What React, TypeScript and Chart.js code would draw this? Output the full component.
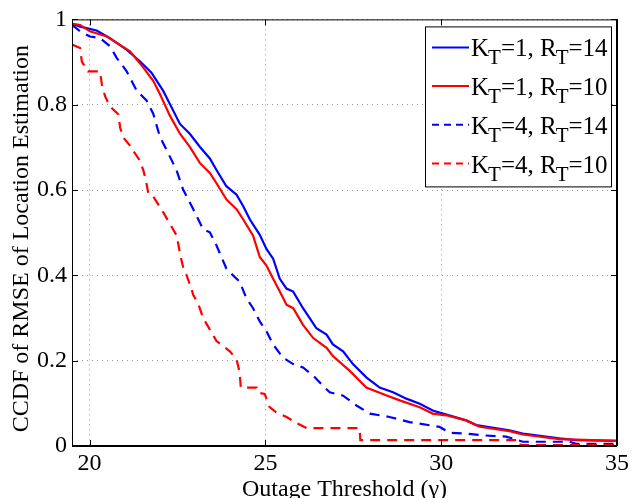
import React, { useEffect, useRef } from "react";
import { Chart, registerables } from "chart.js";
Chart.register(...registerables);

const xTicks = [20, 25, 30, 35];
const yTicks = [0, 0.2, 0.4, 0.6, 0.8, 1];
const xTitle = "Outage Threshold (γ)";
const yTitle = "CCDF of RMSE of Location Estimation";
const legendLabels = ["K_T=1, R_T=14", "K_T=1, R_T=10", "K_T=4, R_T=14", "K_T=4, R_T=10"];

const k1r14X = [19.5, 19.73, 20.2, 20.58, 21.05, 21.43, 21.76, 22.09, 22.28, 22.57, 22.85, 23.14, 23.42, 23.61, 23.89, 24.18, 24.37, 24.56, 24.84, 25.03, 25.22, 25.41, 25.6, 25.79, 26.07, 26.26, 26.45, 26.74, 26.92, 27.21, 27.49, 27.87, 28.25, 28.63, 29.01, 29.39, 29.76, 30.05, 30.71, 31.0, 31.94, 32.32, 33.36, 33.84, 35];
const k1r14Y = [0.99, 0.983, 0.974, 0.956, 0.929, 0.902, 0.875, 0.833, 0.802, 0.755, 0.732, 0.701, 0.674, 0.647, 0.609, 0.589, 0.562, 0.531, 0.495, 0.462, 0.439, 0.392, 0.369, 0.362, 0.323, 0.3, 0.276, 0.261, 0.238, 0.222, 0.192, 0.161, 0.137, 0.126, 0.111, 0.099, 0.083, 0.076, 0.06, 0.049, 0.037, 0.029, 0.018, 0.014, 0.012];

const k1r10X = [19.5, 19.73, 20.01, 20.49, 20.77, 21.15, 21.53, 21.81, 22.0, 22.28, 22.57, 22.85, 23.14, 23.42, 23.61, 23.89, 24.18, 24.37, 24.65, 24.84, 25.03, 25.22, 25.41, 25.6, 25.79, 26.07, 26.36, 26.74, 26.92, 27.4, 27.87, 28.34, 28.82, 29.39, 29.76, 30.14, 30.71, 31.09, 31.94, 32.32, 33.36, 35];
const k1r10Y = [0.99, 0.987, 0.972, 0.96, 0.945, 0.925, 0.887, 0.856, 0.825, 0.775, 0.732, 0.701, 0.663, 0.64, 0.616, 0.578, 0.555, 0.531, 0.493, 0.443, 0.423, 0.392, 0.362, 0.331, 0.323, 0.284, 0.253, 0.23, 0.211, 0.176, 0.137, 0.122, 0.107, 0.091, 0.076, 0.072, 0.06, 0.045, 0.035, 0.027, 0.016, 0.012];

const k4r14X = [19.5, 19.73, 20.01, 20.3, 20.58, 20.77, 21.05, 21.34, 21.62, 21.81, 22.0, 22.19, 22.47, 22.66, 22.95, 23.23, 23.42, 23.61, 23.89, 24.08, 24.27, 24.46, 24.65, 24.84, 25.03, 25.22, 25.5, 25.79, 26.07, 26.36, 26.64, 26.83, 27.21, 27.59, 27.97, 28.53, 29.1, 29.95, 30.24, 30.71, 31.19, 31.85, 32.32, 33.65, 33.84, 35];
const k4r14Y = [0.987, 0.972, 0.96, 0.956, 0.937, 0.91, 0.879, 0.833, 0.81, 0.779, 0.725, 0.694, 0.647, 0.601, 0.555, 0.508, 0.501, 0.47, 0.416, 0.4, 0.385, 0.346, 0.323, 0.292, 0.269, 0.238, 0.207, 0.192, 0.184, 0.165, 0.141, 0.126, 0.118, 0.095, 0.076, 0.068, 0.056, 0.045, 0.031, 0.029, 0.025, 0.022, 0.01, 0.01, 0.005, 0.005];

const k4r10X = [19.5, 19.73, 19.78, 19.95, 20.3, 20.35, 20.44, 20.58, 20.82, 20.87, 20.96, 21.15, 21.24, 21.43, 21.53, 21.62, 21.67, 21.81, 22.1, 22.29, 22.48, 22.58, 22.67, 22.76, 22.86, 22.95, 23.1, 23.23, 23.42, 23.61, 23.99, 24.18, 24.27, 24.3, 24.75, 24.8, 24.98, 25.12, 25.31, 25.6, 25.88, 26.17, 27.68, 27.7, 32.23, 32.26, 35];
const k4r10Y = [0.941, 0.933, 0.901, 0.878, 0.878, 0.847, 0.82, 0.796, 0.777, 0.746, 0.723, 0.704, 0.692, 0.669, 0.646, 0.615, 0.592, 0.585, 0.547, 0.52, 0.493, 0.447, 0.416, 0.4, 0.377, 0.354, 0.331, 0.3, 0.273, 0.246, 0.222, 0.203, 0.172, 0.137, 0.137, 0.125, 0.122, 0.091, 0.079, 0.068, 0.054, 0.042, 0.042, 0.014, 0.014, 0.002, 0.002];

const BLUE = "#0000ff";
const RED = "#ff0000";
const FONT = "'Liberation Serif', 'Times New Roman', serif";

const pts = (xs: number[], ys: number[]) => xs.map((x, i) => ({ x, y: ys[i] }));

const seriesDefs = [
  { label: legendLabels[0], data: pts(k1r14X, k1r14Y), color: BLUE, dashed: false, order: 4 },
  { label: legendLabels[1], data: pts(k1r10X, k1r10Y), color: RED, dashed: false, order: 3 },
  { label: legendLabels[2], data: pts(k4r14X, k4r14Y), color: BLUE, dashed: true, order: 2 },
  { label: legendLabels[3], data: pts(k4r10X, k4r10Y), color: RED, dashed: true, order: 1 },
];

function drawSubText(ctx: CanvasRenderingContext2D, text: string, x: number, y: number) {
  // "_T" means subscript T
  const parts = text.split("_");
  let cx = x;
  parts.forEach((p, i) => {
    if (i === 0) {
      ctx.font = `25px ${FONT}`;
      ctx.fillText(p, cx, y);
      cx += ctx.measureText(p).width;
    } else {
      const sub = p.charAt(0);
      const rest = p.slice(1);
      ctx.font = `21px ${FONT}`;
      ctx.fillText(sub, cx - 1, y + 8);
      cx += ctx.measureText(sub).width - 1;
      ctx.font = `25px ${FONT}`;
      ctx.fillText(rest, cx, y);
      cx += ctx.measureText(rest).width;
    }
  });
}

const decorPlugin = {
  id: "decor",
  afterDraw(chart: any) {
    const ctx = chart.ctx as CanvasRenderingContext2D;
    const { left, right, top, bottom } = chart.chartArea;
    const xs = chart.scales.x;
    const ys = chart.scales.y;
    ctx.save();
    // frame
    ctx.strokeStyle = "#000";
    ctx.lineWidth = 1;
    ctx.beginPath();
    ctx.moveTo(left + 0.5, bottom);
    ctx.lineTo(left + 0.5, top + 0.5);
    ctx.lineTo(right, top + 0.5);
    ctx.stroke();
    ctx.lineWidth = 2;
    ctx.beginPath();
    ctx.moveTo(left, bottom);
    ctx.lineTo(right, bottom);
    ctx.moveTo(right, bottom);
    ctx.lineTo(right, top);
    ctx.stroke();
    // inward ticks
    ctx.lineWidth = 1;
    ctx.beginPath();
    const tl = 6;
    xTicks.forEach((v) => {
      const px = Math.round(xs.getPixelForValue(v)) + 0.5;
      ctx.moveTo(px, bottom);
      ctx.lineTo(px, bottom - tl);
      ctx.moveTo(px, top);
      ctx.lineTo(px, top + tl);
    });
    yTicks.forEach((v) => {
      const py = Math.round(ys.getPixelForValue(v)) + 0.5;
      ctx.moveTo(left, py);
      ctx.lineTo(left + tl, py);
      ctx.moveTo(right, py);
      ctx.lineTo(right - tl, py);
    });
    ctx.stroke();

    // axis titles
    ctx.fillStyle = "#000";
    ctx.font = `24px ${FONT}`;
    ctx.textAlign = "center";
    ctx.textBaseline = "alphabetic";
    ctx.fillText(xTitle, (left + right) / 2, 496);
    ctx.save();
    ctx.translate(22, (top + bottom) / 2 + 6);
    ctx.rotate(-Math.PI / 2);
    ctx.textBaseline = "middle";
    ctx.fillText(yTitle, 0, 0);
    ctx.restore();

    // legend
    const lx = right - 192, ly = top + 7, lw = 186, lh = 160;
    ctx.fillStyle = "#fff";
    ctx.fillRect(lx, ly, lw, lh);
    ctx.strokeStyle = "#000";
    ctx.lineWidth = 1;
    ctx.strokeRect(lx + 0.5, ly + 0.5, lw, lh);
    seriesDefs.forEach((s, i) => {
      const ry = ly + 21 + i * 38.7;
      ctx.strokeStyle = s.color;
      ctx.lineWidth = 2;
      ctx.setLineDash(s.dashed ? [7, 5] : []);
      ctx.beginPath();
      ctx.moveTo(lx + 7, ry);
      ctx.lineTo(lx + 44, ry);
      ctx.stroke();
      ctx.setLineDash([]);
      ctx.fillStyle = "#000";
      ctx.textAlign = "left";
      ctx.textBaseline = "alphabetic";
      drawSubText(ctx, s.label, lx + 46, ry + 9);
    });
    ctx.restore();
  },
};

export default function App() {
  const ref = useRef<HTMLCanvasElement | null>(null);
  useEffect(() => {
    if (!ref.current) return;
    const chart = new Chart(ref.current, {
      type: "line",
      data: {
        datasets: seriesDefs.map((s) => ({
          label: s.label,
          data: s.data,
          borderColor: s.color,
          backgroundColor: s.color,
          borderWidth: 2.2,
          borderDash: s.dashed ? [10, 7] : [],
          pointRadius: 0,
          tension: 0,
          fill: false,
          order: s.order,
        })),
      },
      options: {
        responsive: false,
        animation: false,
        events: [],
        layout: { padding: { top: 15, right: 14, left: 0, bottom: 0 } },
        plugins: { legend: { display: false }, tooltip: { enabled: false } },
        scales: {
          x: {
            type: "linear",
            min: 19.5,
            max: 35,
            afterBuildTicks: (sc: any) => {
              sc.ticks = xTicks.map((v) => ({ value: v }));
            },
            afterFit: (sc: any) => {
              sc.height = 52;
            },
            ticks: {
              color: "#000",
              font: { family: FONT, size: 24 },
              padding: 3,
              maxRotation: 0,
              autoSkip: false,
            },
            grid: { color: "#9a9a9a", drawTicks: false, lineWidth: 1 },
            border: { display: false, dash: [1, 4] },
          },
          y: {
            type: "linear",
            min: 0,
            max: 1,
            afterBuildTicks: (sc: any) => {
              sc.ticks = yTicks.map((v) => ({ value: v }));
            },
            afterFit: (sc: any) => {
              sc.width = 72;
            },
            ticks: {
              color: "#000",
              font: { family: FONT, size: 24 },
              padding: 5,
              autoSkip: false,
              callback: (v: any) => String(Math.round(Number(v) * 10) / 10),
            },
            grid: { color: "#9a9a9a", drawTicks: false, lineWidth: 1 },
            border: { display: false, dash: [1, 4] },
          },
        },
      },
      plugins: [decorPlugin],
    } as any);
    return () => chart.destroy();
  }, []);
  return (
    <div style={{ position: "fixed", left: 0, top: 0, width: 632, height: 498, background: "#fff" }}>
      <canvas ref={ref} width={632} height={498} style={{ display: "block" }} />
    </div>
  );
}
